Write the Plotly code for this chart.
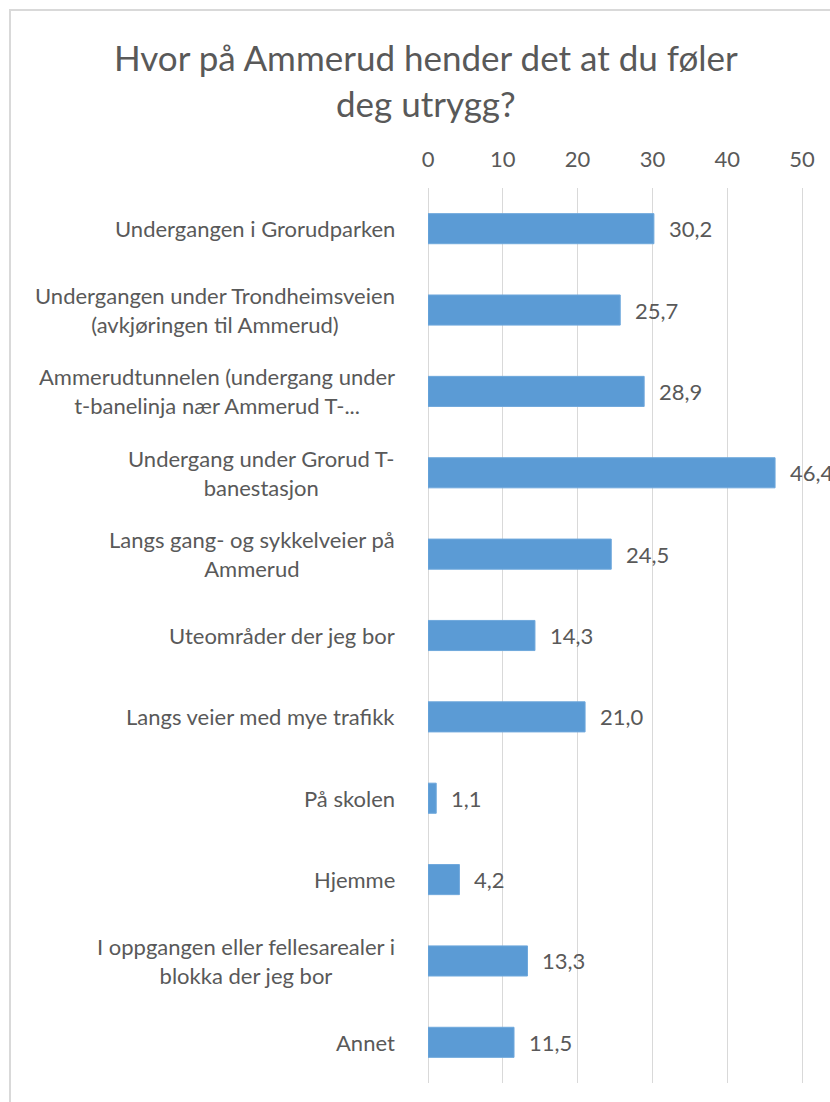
import plotly.graph_objects as go

categories = [
    "Undergangen i Grorudparken",
    "Undergangen under Trondheimsveien<br>(avkjøringen til Ammerud)",
    "Ammerudtunnelen (undergang under<br>t-banelinja nær Ammerud T-...",
    "Undergang under Grorud T-<br>banestasjon",
    "Langs gang- og sykkelveier på<br>Ammerud",
    "Uteområder der jeg bor",
    "Langs veier med mye trafikk",
    "På skolen",
    "Hjemme",
    "I oppgangen eller fellesarealer i<br>blokka der jeg bor",
    "Annet",
]
values = [30.2, 25.7, 28.9, 46.4, 24.5, 14.3, 21.0, 1.1, 4.2, 13.3, 11.5]
x_ticks = [0, 10, 20, 30, 40, 50]
title_lines = ["Hvor på Ammerud hender det at du føler", "deg utrygg?"]

W, H = 830, 1102
ML, MR, MT, MB = 428, 0, 188, 19
PW, PH = W - ML - MR, H - MT - MB
px_per_unit = 7.48
FONT = "Lato"
GRAY = "#595959"

def px_to_paper(xp, yp):
    return (xp - ML) / PW, (H - MB - yp) / PH

ids = list(range(len(categories)))

fig = go.Figure()
fig.add_trace(go.Bar(
    y=ids, x=values, orientation="h",
    marker=dict(color="#5B9BD5", line=dict(color="#6FA8DC", width=1)),
    hoverinfo="skip",
))

annotations = []
for i, (c, v) in enumerate(zip(categories, values)):
    annotations.append(dict(
        x=0, y=i, xref="x", yref="y", text=c, showarrow=False,
        xanchor="right", yanchor="middle", align="center", xshift=-31,
        font=dict(family=FONT, size=22, color=GRAY),
    ))
    annotations.append(dict(
        x=v, y=i, xref="x", yref="y", text=f"{v:.1f}".replace(".", ","),
        showarrow=False, xanchor="left", yanchor="middle", xshift=13,
        font=dict(family=FONT, size=22, color=GRAY),
    ))

title_y = [57, 103]
for line, yp in zip(title_lines, title_y):
    px_, py_ = px_to_paper(426, yp)
    annotations.append(dict(
        x=px_, y=py_, xref="paper", yref="paper", text=line, showarrow=False,
        xanchor="center", yanchor="middle",
        font=dict(family=FONT, size=35, color=GRAY),
    ))

x0, y0 = px_to_paper(10, H + 5)
x1, y1 = px_to_paper(10, 10)
x2, y2 = px_to_paper(W + 5, 10)
shapes = [dict(
    type="path", xref="paper", yref="paper",
    path=f"M {x0} {y0} L {x1} {y1} L {x2} {y2}",
    line=dict(color="#D9D9D9", width=2),
)]

fig.update_layout(
    width=W, height=H,
    margin=dict(l=ML, r=MR, t=MT, b=MB, pad=0),
    paper_bgcolor="white", plot_bgcolor="white",
    showlegend=False, bargap=0.63,
    annotations=annotations, shapes=shapes,
    xaxis=dict(
        side="top", range=[0, PW / px_per_unit],
        tickvals=x_ticks, ticktext=[str(t) for t in x_ticks],
        showgrid=True, gridcolor="#D9D9D9", gridwidth=1,
        zeroline=True, zerolinecolor="#D9D9D9", zerolinewidth=1,
        showline=False, ticks="", ticklabelstandoff=16,
        tickfont=dict(family=FONT, size=22, color=GRAY),
    ),
    yaxis=dict(
        range=[len(categories) - 0.5, -0.5], showticklabels=False,
        showgrid=False, zeroline=False, showline=False, ticks="",
    ),
)

fig.write_html(
    "out.html",
    config={"displayModeBar": False},
    post_script="document.body.style.margin='0';document.body.style.overflow='hidden';",
)
